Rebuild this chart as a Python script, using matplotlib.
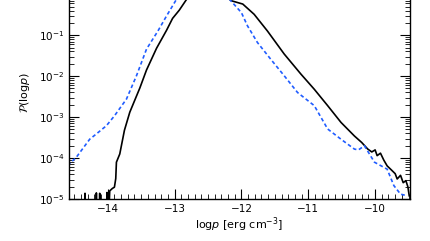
import matplotlib.pyplot as plt
import numpy as np
from matplotlib.ticker import MultipleLocator, LogLocator, NullFormatter, FixedLocator

# black solid curve: log p vs log10 P
logp_black = [-14.40, -14.35, -14.34, -14.33, -14.18, -14.17, -14.16, -14.13, -14.12,
              -14.11, -14.02, -14.01, -14.00, -13.97, -13.93, -13.90, -13.88, -13.87,
              -13.82, -13.75, -13.67, -13.52, -13.42, -13.27, -13.12, -13.03, -12.93,
              -12.81, -12.65, -12.45, -12.30, -12.15, -11.98, -11.81, -11.61, -11.36,
              -11.11, -10.91, -10.71, -10.51, -10.31, -10.20, -10.11, -10.05, -10.00,
              -9.97, -9.92, -9.87, -9.82, -9.75, -9.70, -9.67, -9.62, -9.58, -9.54,
              -9.51, -9.49]
logP_black = [-6.0, -6.0, -4.86, -6.0, -6.0, -4.85, -6.0, -6.0, -4.86,
              -6.0, -6.0, -4.84, -6.0, -4.80, -4.74, -4.71, -4.50, -4.10,
              -3.90, -3.32, -2.88, -2.29, -1.85, -1.32, -0.88, -0.59, -0.39,
              -0.10, 0.08, 0.10, 0.02, -0.16, -0.24, -0.49, -0.90, -1.46,
              -1.95, -2.32, -2.72, -3.13, -3.46, -3.62, -3.78, -3.85, -3.80,
              -3.94, -3.88, -4.05, -4.19, -4.30, -4.38, -4.51, -4.42, -4.60, -4.55,
              -4.70, -4.92]

# blue dashed curve
logp_blue = [-14.60, -14.47, -14.27, -14.17, -14.02, -13.90, -13.72, -13.57, -13.42,
             -13.25, -13.12, -12.97, -12.75, -12.55, -12.35, -12.18, -12.00, -11.91,
             -11.76, -11.56, -11.36, -11.16, -10.91, -10.71, -10.51, -10.31, -10.25,
             -10.16, -10.01, -9.82, -9.72, -9.62, -9.52]
logP_blue = [-4.18, -3.98, -3.54, -3.41, -3.21, -2.97, -2.56, -1.99, -1.34,
             -0.90, -0.53, -0.12, 0.10, 0.15, 0.08, -0.12, -0.45, -0.77,
             -1.18, -1.59, -1.99, -2.40, -2.72, -3.29, -3.54, -3.78, -3.80,
             -3.70, -4.10, -4.27, -4.67, -4.88, -4.92]

yticks = [1e-5, 1e-4, 1e-3, 1e-2, 1e-1]

fig = plt.figure(figsize=(4.31, 2.41), dpi=100)
ax = fig.add_axes([0.160, 0.174, 0.791, 0.884])

ax.plot(logp_black, 10 ** np.array(logP_black), color='black', lw=1.2)
ax.plot(logp_blue, 10 ** np.array(logP_blue), color='#1f5cff', lw=1.2,
        linestyle=(0, (2.2, 1.6)))

ax.set_yscale('log')
ax.set_xlim(-14.58, -9.48)
ax.set_ylim(1e-5, 10 ** 0.2)

ax.xaxis.set_major_locator(MultipleLocator(1))
ax.xaxis.set_minor_locator(MultipleLocator(0.1))
ax.yaxis.set_major_locator(FixedLocator(yticks))
ax.yaxis.set_minor_locator(LogLocator(base=10, subs=np.arange(2, 10), numticks=10))
ax.yaxis.set_minor_formatter(NullFormatter())

ax.tick_params(which='both', direction='in', top=True, right=True, labelsize=7.5)
ax.tick_params(which='major', length=7, width=0.8)
ax.tick_params(which='minor', length=3.5, width=0.6)
for s in ax.spines.values():
    s.set_linewidth(1.0)

ax.set_xlabel(r'log$p$ [erg cm$^{-3}$]', fontsize=8, labelpad=1)
ax.set_ylabel(r'$\mathcal{P}$(log$p$)', fontsize=8, labelpad=5)

fig.savefig('out.png', dpi=100)
